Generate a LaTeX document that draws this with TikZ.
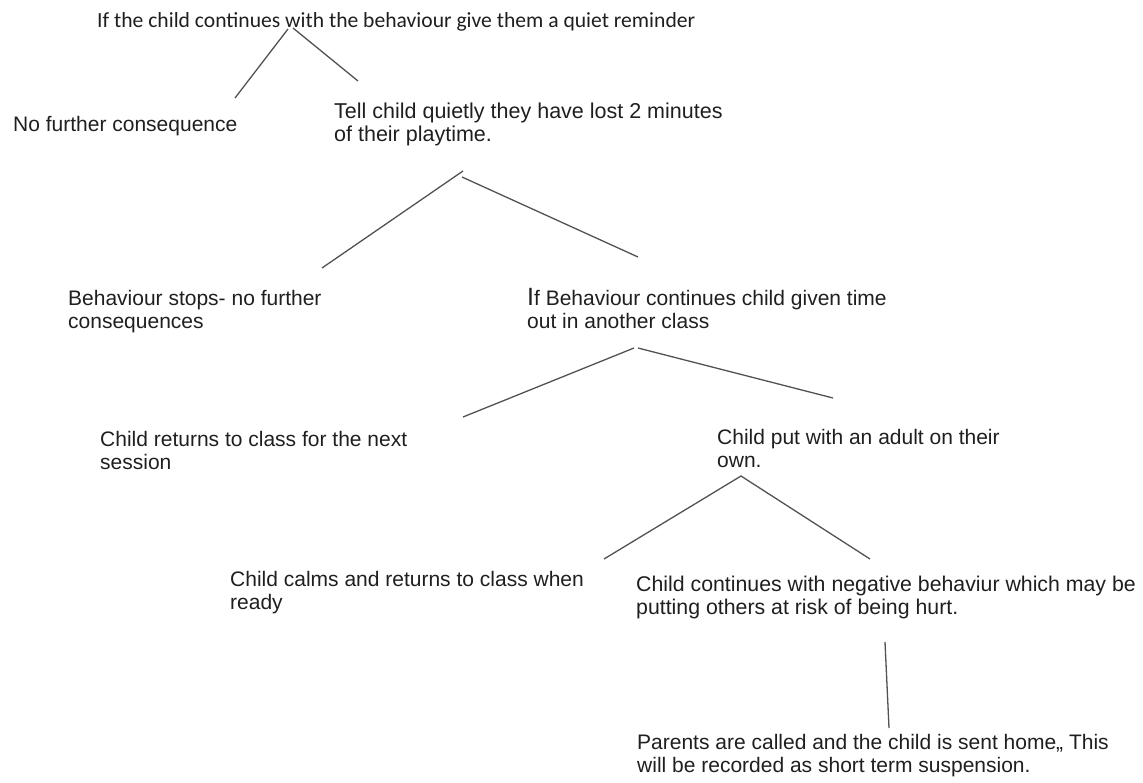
\documentclass[tikz,border=0pt]{standalone}
\usepackage{fontspec}
\setmainfont{Liberation Sans}
\newfontfamily\calfont{Carlito}
\begin{document}
\begin{tikzpicture}[x=1pt,y=-1pt,
  txt/.style={anchor=base west,inner sep=0pt,align=left,text=black!88,
    font=\fontsize{21}{23}\selectfont},
  link/.style={draw=black!68,line width=1.3pt}]
\useasboundingbox (0,0) rectangle (1143,782);
% texts (multi-line nodes: base = baseline of the last line)
\node[txt,font=\calfont\fontsize{21.6}{24}\selectfont] (top) at (97,27) {If the child continues with the behaviour give them a quiet reminder};
\node[txt] (nofur) at (13,131) {No further consequence};
\node[txt,font=\fontsize{21.5}{23}\selectfont] (tell) at (334,141) {Tell child quietly they have lost 2 minutes\\of their playtime.};
\node[txt] (stops) at (68,328) {Behaviour stops- no further\\consequences};
\node[txt] (ifb) at (527,328) {{\fontsize{25}{23}\selectfont I}f Behaviour continues child given time\\out in another class};
\node[txt] (ret) at (100,469) {Child returns to class for the next\\session};
\node[txt] (put) at (717,467) {Child put with an adult on their\\own.};
\node[txt] (calm) at (230,609) {Child calms and returns to class when\\ready};
\node[txt,font=\fontsize{21.3}{23}\selectfont] (cont) at (636,614) {Child continues with negative behaviur which may be\\putting others at risk of being hurt.};
\node[txt] (par) at (637,772) {Parents are called and the child is sent home,, This\\will be recorded as short term suspension.};
% connector end points
\coordinate (a1) at (288,29);  \coordinate (a1l) at (235,98);
\coordinate (a2) at (293,28);  \coordinate (a2r) at (358,81);
\coordinate (b1) at (463,171); \coordinate (b1l) at (322,268);
\coordinate (b2) at (462,177); \coordinate (b2r) at (638,257);
\coordinate (c1) at (634,348); \coordinate (c1l) at (463,417);
\coordinate (c2) at (638,348); \coordinate (c2r) at (833,398);
\coordinate (d1) at (741,476); \coordinate (d1l) at (604,559);
\coordinate (d1r) at (870,559);
\coordinate (e1) at (885,642); \coordinate (e2) at (889,728);
% connectors
\draw[link] (a1) -- (a1l);
\draw[link] (a2) -- (a2r);
\draw[link] (b1) -- (b1l);
\draw[link] (b2) -- (b2r);
\draw[link] (c1) -- (c1l);
\draw[link] (c2) -- (c2r);
\draw[link] (d1l) -- (d1) -- (d1r);
\draw[link] (e1) -- (e2);
\end{tikzpicture}
\end{document}
